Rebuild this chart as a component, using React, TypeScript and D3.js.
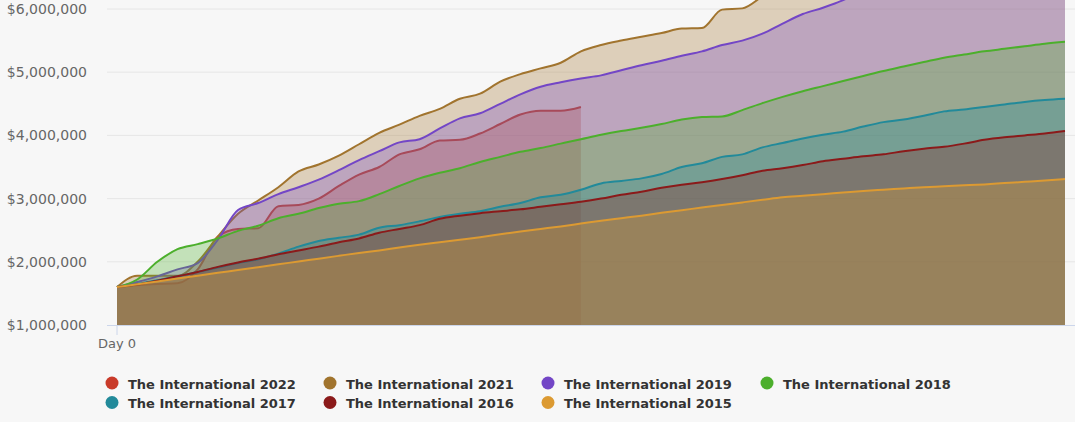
import React from "react";
import * as d3 from "d3";

// Day index (every 2 days, Day 0 .. Day 94)
const days: number[] = d3.range(0, 96, 2);

// Prize pool values in millions USD, one per sampled day
const ti2022: number[] = [1.60, 1.63, 1.65, 1.66, 1.88, 2.40, 2.52, 2.53, 2.88, 2.90, 3.00, 3.20, 3.38, 3.50, 3.70, 3.78, 3.92, 3.93, 4.03, 4.18, 4.33, 4.39, 4.39, 4.45];
const ti2021: number[] = [1.60, 1.78, 1.78, 1.78, 2.00, 2.40, 2.76, 2.97, 3.18, 3.43, 3.54, 3.68, 3.86, 4.04, 4.17, 4.31, 4.42, 4.58, 4.66, 4.85, 4.97, 5.06, 5.15, 5.33, 5.43, 5.50, 5.56, 5.62, 5.69, 5.70, 5.99, 6.01, 6.20, 6.38, 6.55, 6.70, 6.85, 7.00, 7.15, 7.30, 7.45, 7.60, 7.75, 7.90, 8.05, 8.20, 8.35, 8.50];
const ti2019: number[] = [1.60, 1.68, 1.77, 1.88, 1.98, 2.35, 2.82, 2.93, 3.07, 3.18, 3.30, 3.45, 3.61, 3.75, 3.89, 3.94, 4.11, 4.27, 4.35, 4.50, 4.65, 4.77, 4.84, 4.90, 4.95, 5.03, 5.11, 5.18, 5.26, 5.33, 5.43, 5.50, 5.61, 5.77, 5.92, 6.02, 6.14, 6.30, 6.45, 6.60, 6.75, 6.90, 7.05, 7.20, 7.35, 7.50, 7.65, 7.80];
const ti2018: number[] = [1.60, 1.72, 2.00, 2.20, 2.28, 2.37, 2.49, 2.57, 2.69, 2.76, 2.85, 2.92, 2.96, 3.07, 3.20, 3.32, 3.41, 3.48, 3.58, 3.66, 3.74, 3.80, 3.87, 3.94, 4.01, 4.07, 4.12, 4.18, 4.25, 4.29, 4.30, 4.40, 4.51, 4.61, 4.70, 4.78, 4.86, 4.94, 5.02, 5.09, 5.16, 5.23, 5.28, 5.33, 5.37, 5.41, 5.45, 5.48];
const ti2017: number[] = [1.60, 1.65, 1.71, 1.77, 1.84, 1.91, 1.98, 2.04, 2.13, 2.24, 2.33, 2.38, 2.43, 2.54, 2.58, 2.64, 2.71, 2.76, 2.80, 2.87, 2.93, 3.02, 3.06, 3.14, 3.24, 3.28, 3.32, 3.39, 3.50, 3.56, 3.66, 3.70, 3.81, 3.88, 3.95, 4.01, 4.06, 4.14, 4.21, 4.25, 4.31, 4.38, 4.41, 4.45, 4.49, 4.53, 4.56, 4.58];
const ti2016: number[] = [1.60, 1.64, 1.70, 1.77, 1.84, 1.92, 1.99, 2.05, 2.12, 2.18, 2.24, 2.31, 2.37, 2.46, 2.52, 2.58, 2.68, 2.73, 2.77, 2.80, 2.83, 2.87, 2.91, 2.95, 3.00, 3.06, 3.11, 3.17, 3.22, 3.26, 3.31, 3.37, 3.44, 3.48, 3.53, 3.59, 3.63, 3.67, 3.70, 3.75, 3.79, 3.82, 3.87, 3.93, 3.97, 4.00, 4.03, 4.07];
const ti2015: number[] = [1.60, 1.645, 1.69, 1.735, 1.78, 1.825, 1.87, 1.915, 1.96, 2.005, 2.05, 2.095, 2.14, 2.18, 2.225, 2.27, 2.31, 2.35, 2.39, 2.435, 2.48, 2.52, 2.56, 2.605, 2.65, 2.69, 2.73, 2.775, 2.815, 2.86, 2.90, 2.94, 2.98, 3.02, 3.045, 3.07, 3.095, 3.12, 3.14, 3.16, 3.18, 3.195, 3.21, 3.225, 3.245, 3.265, 3.285, 3.31];

const seriesNames: string[] = [
  "The International 2022",
  "The International 2021",
  "The International 2019",
  "The International 2018",
  "The International 2017",
  "The International 2016",
  "The International 2015",
];
const seriesColors: string[] = ["#c93b2a", "#a1742e", "#7346c6", "#4caf2c", "#228a9a", "#8b1a1a", "#dc9a32"];
const seriesValues: number[][] = [ti2022, ti2021, ti2019, ti2018, ti2017, ti2016, ti2015];

const yTicks: number[] = [1e6, 2e6, 3e6, 4e6, 5e6, 6e6];
const xTickLabels: string[] = ["Day 0"];

const W = 1075;
const H = 422;

export default function App() {
  const x = d3.scaleLinear().domain([0, 94]).range([117, 1065]);
  const y = d3.scaleLinear().domain([1e6, 6e6]).range([325, 9]);
  const fmt = (v: number) => "$" + d3.format(",")(v);

  const area = d3
    .area<[number, number]>()
    .x((d) => x(d[0]))
    .y0(y(1e6))
    .y1((d) => y(d[1] * 1e6))
    .curve(d3.curveMonotoneX);
  const line = d3
    .line<[number, number]>()
    .x((d) => x(d[0]))
    .y((d) => y(d[1] * 1e6))
    .curve(d3.curveMonotoneX);

  const legendCols = [112, 330, 548, 767];
  const legendRows = [383, 402.5];

  return (
    <div style={{ position: "fixed", left: 0, top: 0, width: W, height: H, background: "#f7f7f7" }}>
      <svg width={W} height={H} style={{ display: "block" }}>
        <rect x={0} y={0} width={W} height={H} fill="#f7f7f7" />
        {yTicks.slice(1).map((t) => (
          <line key={t} x1={107} x2={W} y1={y(t)} y2={y(t)} stroke="#e6e6e6" strokeWidth={1} />
        ))}
        {yTicks.map((t) => (
          <text
            key={"l" + t}
            x={87}
            y={y(t)}
            dy="0.36em"
            textAnchor="end"
            fontFamily="DejaVu Sans, sans-serif"
            fontSize={14}
            fill="#666666"
          >
            {fmt(t)}
          </text>
        ))}
        {seriesValues.map((vals, i) => {
          const pts: [number, number][] = vals.map((v, j) => [days[j], v]);
          return (
            <g key={seriesNames[i]}>
              <path d={area(pts) || ""} fill={seriesColors[i]} fillOpacity={0.3} />
              <path d={line(pts) || ""} fill="none" stroke={seriesColors[i]} strokeWidth={2} strokeLinejoin="round" />
            </g>
          );
        })}
        <line x1={107} x2={W} y1={325.5} y2={325.5} stroke="#ccd6eb" strokeWidth={1} />
        <line x1={x(0)} x2={x(0)} y1={325} y2={335} stroke="#ccd6eb" strokeWidth={1} />
        <text
          x={x(0)}
          y={348}
          textAnchor="middle"
          fontFamily="DejaVu Sans, sans-serif"
          fontSize={13}
          fill="#666666"
        >
          {xTickLabels[0]}
        </text>
        {seriesNames.map((name, i) => {
          const cx = legendCols[i % 4];
          const cy = legendRows[Math.floor(i / 4)];
          return (
            <g key={"lg" + name}>
              <circle cx={cx} cy={cy} r={6.5} fill={seriesColors[i]} />
              <text
                x={cx + 16}
                y={cy + 5.5}
                fontFamily="DejaVu Sans, sans-serif"
                fontWeight="bold"
                fontSize={13}
                fill="#333333"
              >
                {name}
              </text>
            </g>
          );
        })}
      </svg>
    </div>
  );
}
